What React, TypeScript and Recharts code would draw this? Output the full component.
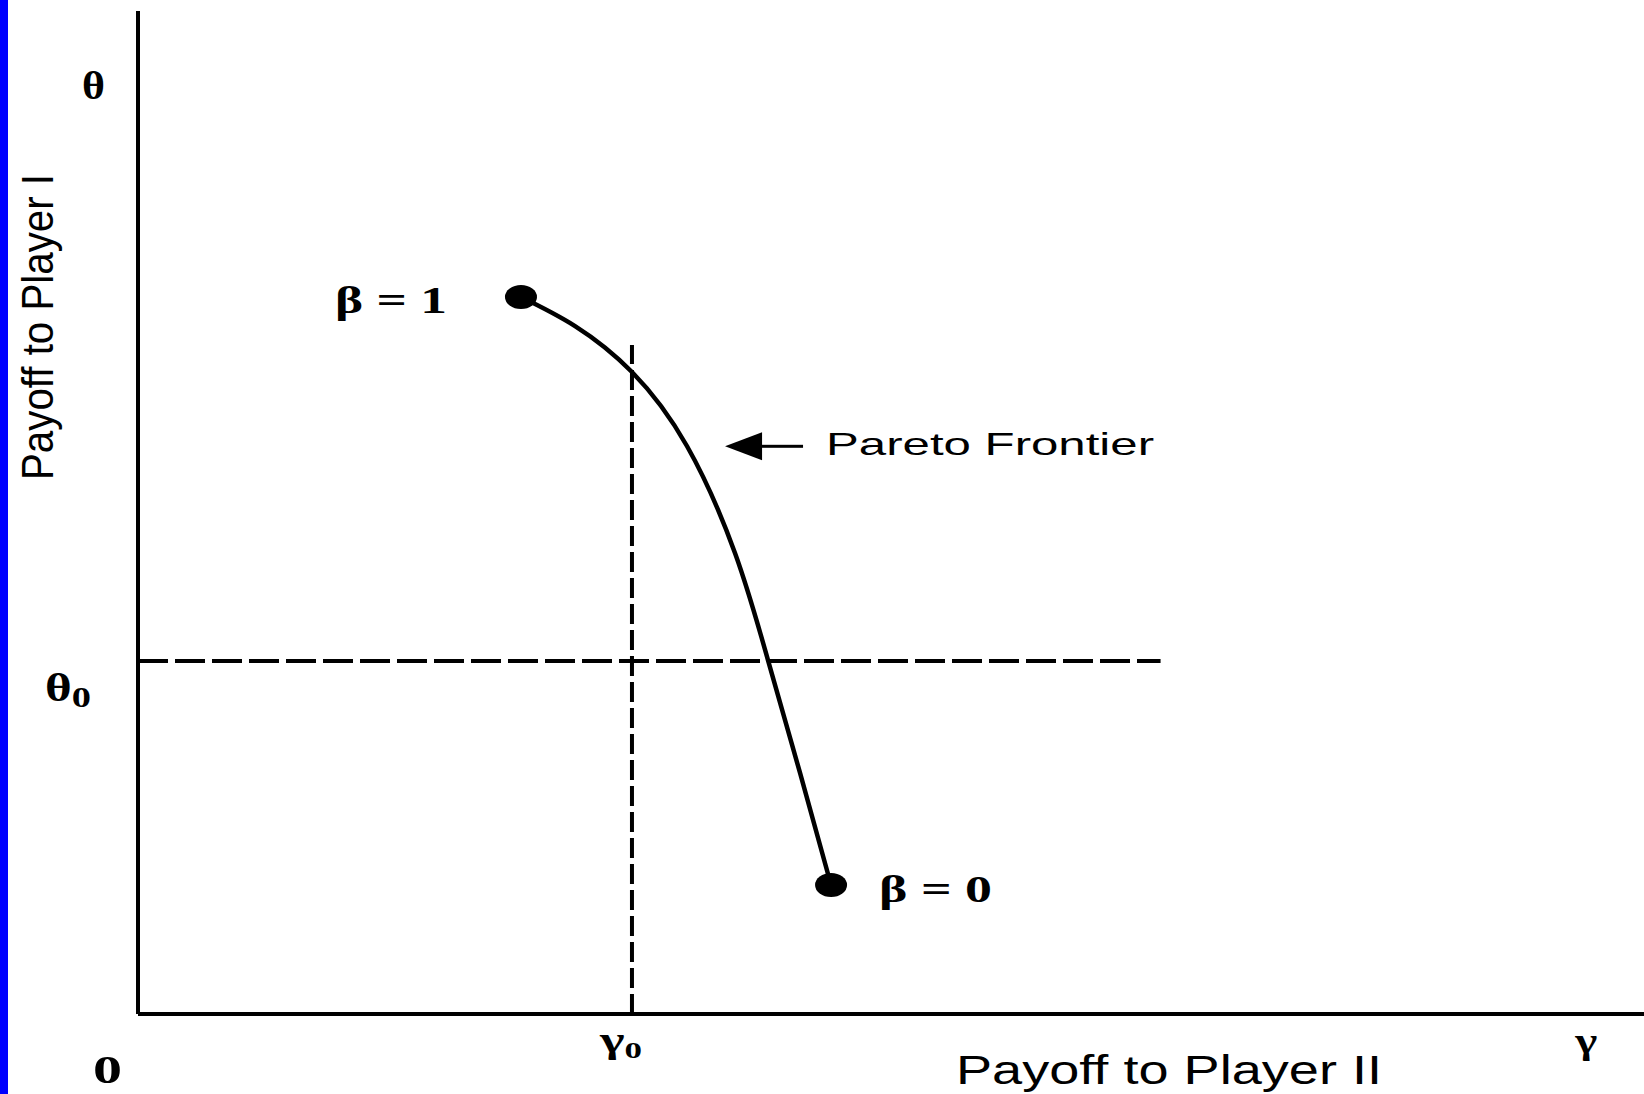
import React from 'react'
import { ComposedChart, Line, XAxis, YAxis, ReferenceLine, ReferenceDot } from 'recharts'

// Pareto frontier sketch: payoff to player II (x) vs payoff to player I (y).
// Values on a 0..100 scale for both axes.

const frontierX = [25.43, 29.02, 32.8, 36.45, 39.64, 41.83, 43.96, 46.02]
const frontierY = [71.49, 68.59, 64.01, 56.63, 45.96, 35.29, 24.03, 12.86]
const endpointLabels = ['β = 1', 'β = 0']

const gamma0 = 32.8
const theta0 = 35.2
const gamma0Top = 66.7 // where the γ0 guide stops
const theta0Right = 67.9 // where the θ0 guide stops

const xTickValues = [0, 32.8, 96.1]
const xTickLabels = [
  { main: '0', sub: '' },
  { main: 'γ', sub: '0' },
  { main: 'γ', sub: '' },
]
const yTickValues = [35.2, 92.5]
const yTickLabels = [
  { main: 'θ', sub: '0' },
  { main: 'θ', sub: '' },
]

const arrowTip = { x: 38.98, y: 56.6 }
const arrowText = 'Pareto Frontier'
const xTitle = 'Payoff to Player II'
const yTitle = 'Payoff to Player I'

const frontier = frontierX.map((x, i) => ({ x, y: frontierY[i] }))

// layout tweaks (the scan is stretched sideways, so text gets a fixed length)
const SERIF = '"Liberation Serif", "DejaVu Serif", serif'
const SANS = '"Liberation Sans", Arial, sans-serif'
const xTickLayout = [
  { dx: -45, dy: 69, size: 40, len: 29, subSize: 0, subDy: 0 },
  { dx: -32, dy: 38, size: 36, len: 42, subSize: 24, subDy: 6 },
  { dx: -10, dy: 39, size: 36, len: 22, subSize: 0, subDy: 0 },
]
const yTickLayout = [
  { dx: -93, dy: 40, size: 40, len: 46, subSize: 30, subDy: 6 },
  { dx: -56, dy: 13, size: 40, len: 23, subSize: 0, subDy: 0 },
]
const endpointLayout = [
  { dx: -186, dy: 16, len: 112 },
  { dx: 48, dy: 17, len: 113 },
]

function TickText({ x, y, label, lay }: any) {
  return (
    <text
      x={x + lay.dx}
      y={y + lay.dy}
      fontFamily={SERIF}
      fontWeight="bold"
      fontSize={lay.size}
      fill="#000"
      textLength={lay.len}
      lengthAdjust="spacingAndGlyphs"
    >
      <tspan>{label.main}</tspan>
      {label.sub ? (
        <tspan fontSize={lay.subSize} dy={lay.subDy}>
          {label.sub}
        </tspan>
      ) : null}
    </text>
  )
}

const XTick = (props: any) => {
  const i = props.index
  return <TickText x={props.x} y={props.y} label={xTickLabels[i]} lay={xTickLayout[i]} />
}

const YTick = (props: any) => {
  const i = props.index
  return <TickText x={props.x} y={props.y} label={yTickLabels[i]} lay={yTickLayout[i]} />
}

const XTitle = (props: any) => {
  const vb = props.viewBox
  return (
    <text
      x={vb.x + 818}
      y={vb.y + 70}
      fontFamily={SANS}
      fontSize={40}
      fill="#000"
      textLength={426}
      lengthAdjust="spacingAndGlyphs"
    >
      {xTitle}
    </text>
  )
}

const YTitle = (props: any) => {
  const vb = props.viewBox
  const bx = vb.x + 53
  const by = vb.y + 469
  return (
    <text
      x={bx}
      y={by}
      transform={`rotate(-90, ${bx}, ${by})`}
      fontFamily={SANS}
      fontSize={44}
      fill="#000"
      textLength={306}
      lengthAdjust="spacingAndGlyphs"
    >
      {yTitle}
    </text>
  )
}

const FrontierDot = (props: any) => {
  const { cx, cy, index } = props
  const last = frontier.length - 1
  if (index !== 0 && index !== last) return <g key={`pt-${index}`} />
  const k = index === 0 ? 0 : 1
  const lay = endpointLayout[k]
  return (
    <g key={`pt-${index}`}>
      <ellipse cx={cx} cy={cy} rx={16} ry={12} fill="#000" />
      <text
        x={cx + lay.dx}
        y={cy + lay.dy}
        fontFamily={SERIF}
        fontWeight="bold"
        fontSize={38}
        fill="#000"
        textLength={lay.len}
        lengthAdjust="spacingAndGlyphs"
      >
        {endpointLabels[k]}
      </text>
    </g>
  )
}

const ArrowNote = (props: any) => {
  const { cx, cy } = props
  return (
    <g>
      <path d={`M${cx},${cy} L${cx + 37},${cy - 14} L${cx + 37},${cy + 14} Z`} fill="#000" />
      <rect x={cx + 34} y={cy - 1.5} width={44} height={3} fill="#000" />
      <text
        x={cx + 101}
        y={cy + 9}
        fontFamily={SANS}
        fontSize={32}
        fill="#000"
        textLength={328}
        lengthAdjust="spacingAndGlyphs"
      >
        {arrowText}
      </text>
    </g>
  )
}

export default function App() {
  return (
    <div style={{ position: 'relative', width: 1644, height: 1094, background: '#fff', overflow: 'hidden' }}>
      <style>{'body{margin:0}'}</style>
      <div style={{ position: 'absolute', left: 0, top: 0, width: 8, height: 1094, background: '#0000ff' }} />
      <ComposedChart width={1644} height={1094} data={frontier} margin={{ top: 11, right: 0, bottom: 0, left: 0 }}>
        <XAxis
          dataKey="x"
          type="number"
          domain={[0, 100]}
          allowDataOverflow
          ticks={xTickValues}
          interval={0}
          height={80}
          tickSize={0}
          tickMargin={0}
          tickLine={false}
          axisLine={{ stroke: '#000', strokeWidth: 4 }}
          tick={XTick}
          label={XTitle}
        />
        <YAxis
          dataKey="y"
          type="number"
          domain={[0, 100]}
          allowDataOverflow
          ticks={yTickValues}
          interval={0}
          width={138}
          tickSize={0}
          tickMargin={0}
          tickLine={false}
          axisLine={{ stroke: '#000', strokeWidth: 4 }}
          tick={YTick}
          label={YTitle}
        />
        <ReferenceLine
          segment={[{ x: 0, y: theta0 }, { x: theta0Right, y: theta0 }]}
          stroke="#000"
          strokeWidth={4}
          strokeDasharray="30 7"
        />
        <ReferenceLine
          segment={[{ x: gamma0, y: 0 }, { x: gamma0, y: gamma0Top }]}
          stroke="#000"
          strokeWidth={4}
          strokeDasharray="20 6"
        />
        <Line
          dataKey="y"
          type="natural"
          stroke="#000"
          strokeWidth={4.5}
          dot={FrontierDot}
          activeDot={false}
          isAnimationActive={false}
        />
        <ReferenceDot x={arrowTip.x} y={arrowTip.y} r={1} shape={ArrowNote} />
      </ComposedChart>
    </div>
  )
}
